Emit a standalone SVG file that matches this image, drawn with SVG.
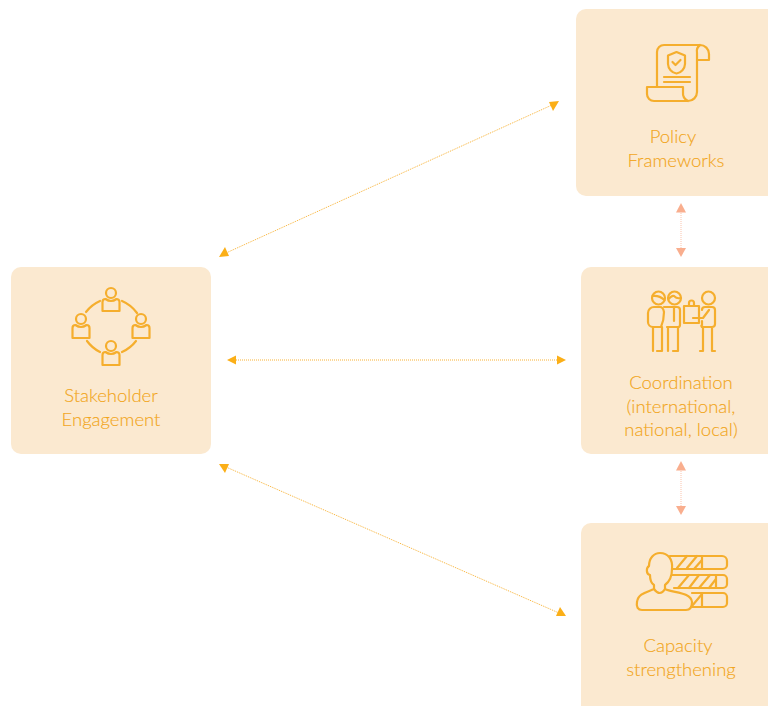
<svg xmlns="http://www.w3.org/2000/svg" width="768" height="706" viewBox="0 0 768 706">
<style>
.box{fill:#FBE9D0}
.ic{fill:none;stroke:#F5AE2D;stroke-width:2.200;stroke-linecap:round;stroke-linejoin:round}
.lb{font-family:"Lato","Liberation Sans",sans-serif;font-weight:300;font-size:18.5px;fill:#F2A61C;stroke:#F2A61C;stroke-width:.15;text-anchor:middle}
.y{stroke:#F9B233;stroke-width:1;stroke-dasharray:1 1;fill:none}
.p{stroke:#FBC4AC;stroke-width:1;stroke-dasharray:1 1;fill:none}
.yh{fill:#FBAF17}.ph{fill:#F9AE8E}
</style>
<rect width="768" height="706" fill="#fff"/>
<g id="connectors">
<line class="y" x1="226" y1="253" x2="552" y2="105"/>
<polygon class="yh" points="219,257 229,256 225,247"/>
<polygon class="yh" points="559,101 549,102 553,111"/>
<line class="y" x1="234" y1="360" x2="559" y2="360"/>
<polygon class="yh" points="227,360 236,355.500 236,364.500"/>
<polygon class="yh" points="566,360 557,355.500 557,364.500"/>
<line class="y" x1="226" y1="467" x2="559" y2="613"/>
<polygon class="yh" points="219,464 225,473 229,464"/>
<polygon class="yh" points="566,616 556,616 560,607"/>
<line class="p" x1="681" y1="211" x2="681" y2="249"/>
<polygon class="ph" points="681,203 676,212.500 686,212.500"/>
<polygon class="ph" points="681,257 676,248 686,248"/>
<line class="p" x1="681" y1="469" x2="681" y2="507"/>
<polygon class="ph" points="681,461 676,470.500 686,470.500"/>
<polygon class="ph" points="681,515 676,506 686,506"/>
</g>
<g id="policy">
<path class="box" d="M586,9H768V196H586a10,10 0 0 1-10-10V19a10,10 0 0 1 10-10z"/>
<g class="ic">
<path d="M657,87V52a7,7 0 0 1 7-7H700a9,9 0 0 1 9,9V60H697V53a8,8 0 0 1 3-8"/>
<path d="M697,60V92a9,9 0 0 1-9,9H654a7,7 0 0 1-7-7V87H683V92a9,9 0 0 0 5,9"/>
<path d="M676.500,52L685,55.500V64a10,10 0 0 1-8.500,9.500A10,10 0 0 1 668,64V55.500z"/>
<path d="M672.500,62L675.500,65L680.500,60"/>
<path d="M664,77H690M664,82H690"/>
</g>
<text class="lb"><tspan x="673" y="143">Policy</tspan><tspan x="676" y="167">Frameworks</tspan></text>
</g>
<g id="coordination">
<path class="box" d="M591,267H768V454H591a10,10 0 0 1-10-10V277a10,10 0 0 1 10-10z"/>
<g class="ic">
<circle cx="658.500" cy="298" r="6.500"/><path d="M652.500,296Q659,295 664.500,300"/>
<circle cx="674.500" cy="298" r="6.500"/><path d="M668.500,299Q672,295 674,296Q677,299 680.500,298"/>
<circle cx="708.500" cy="298" r="6.500"/>
<path d="M653,327H661Q664,320 664,312Q663,307 660,307H654a6,6 0 0 0-6,6V322a5,5 0 0 0 5,5"/>
<path d="M653,327V351M662,327V351H657M664,307H677a3,3 0 0 1 3,3V325a2,2 0 0 1-2,2H667"/>
<path d="M668,327V351M678,327V351H673M674,307V321"/>
<path d="M703,327V351H700M712,327V351H715M703,327a1,1 0 0 1-1-2V321M702,310a3,3 0 0 1 3-3H712a3,3 0 0 1 3,3V324a3,3 0 0 1-3,3H703"/>
<path d="M684,306H699V323H684zM689,306V303a2.500,2.500 0 0 1 5,0V306M693,318H703L709,310"/>
</g>
<text class="lb"><tspan x="681" y="389">Coordination</tspan><tspan x="681" y="413">(international,</tspan><tspan x="681" y="436">national, local)</tspan></text>
</g>
<g id="capacity">
<path class="box" d="M591,523H768V706H581V533a10,10 0 0 1 10-10z"/>
<g class="ic">
<path d="M670,556H722a5,5 0 0 1 5,5V565a4,4 0 0 1-4,4H673"/>
<path d="M672,575H723a4,4 0 0 1 4,4V584a4,4 0 0 1-4,4H674"/>
<path d="M692,593H723a4,4 0 0 1 4,4V603a4,4 0 0 1-4,4H692"/>
<path d="M702,556V569M716,575V588M702,593V607"/>
<path d="M677,568L687,556M687,568L697,556M694,569L702,560M678,588L689,575M689,588L699,575M699,588L710,575M709,588L716,579M692,606L702,594"/>
<path d="M649,566C649,558 654,553 660,553C668,553 673,559 672,569C672,577 669,582 665,585V589C673,593 691,592 692,602C692,607 690,610 686,610H642C638,610 636,607 637,602C638,593 648,592 654,589V585C651,583 650,579 650,575C646,574 646,568 649,566Z"/>
<path d="M654,589Q660,597 665,589"/>
</g>
<text class="lb"><tspan x="678" y="652">Capacity</tspan><tspan x="681" y="676">strengthening</tspan></text>
</g>
<g id="stakeholder">
<rect class="box" x="11" y="267" width="200" height="187" rx="10"/>
<g class="ic">
<path d="M100,301A36,36 0 0 0 86,312"/>
<path d="M122,301A36,36 0 0 1 137,313"/>
<path d="M87,341A36,36 0 0 0 100,352"/>
<path d="M136,341A36,36 0 0 1 122,352"/>
<circle cx="111" cy="293" r="5"/><path d="M102.500,311V302a3,3 0 0 1 3-3Q111,303 116.500,299a3,3 0 0 1 3,3V311z"/>
<circle cx="81" cy="319" r="5"/><path d="M72.500,338V328a3,3 0 0 1 3-3Q81,329 86.500,325a3,3 0 0 1 3,3V338z"/>
<circle cx="141" cy="319" r="5"/><path d="M132.500,338V328a3,3 0 0 1 3-3Q141,329 146.500,325a3,3 0 0 1 3,3V338z"/>
<circle cx="111" cy="346" r="5"/><path d="M102.500,365V355a3,3 0 0 1 3-3Q111,356 116.500,352a3,3 0 0 1 3,3V365z"/>
</g>
<text class="lb"><tspan x="111" y="402">Stakeholder</tspan><tspan x="111" y="426">Engagement</tspan></text>
</g>
</svg>
